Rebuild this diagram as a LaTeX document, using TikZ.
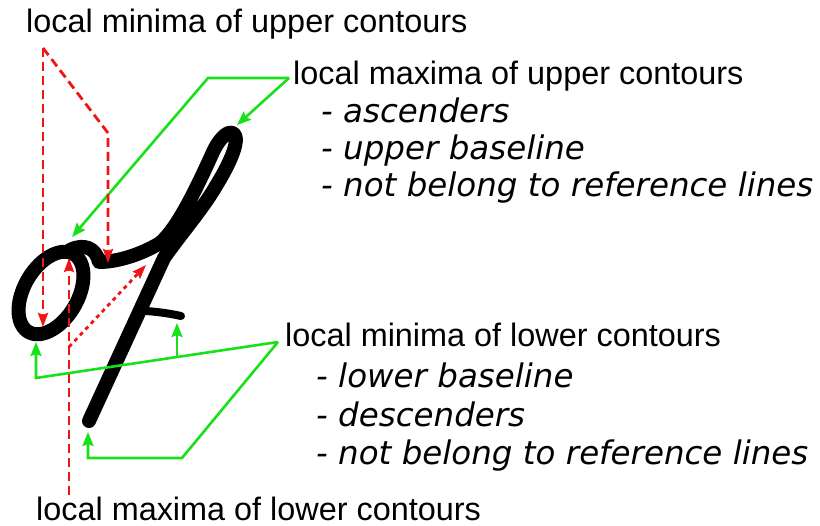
\documentclass[tikz,border=0pt]{standalone}
\usepackage{fontspec}
\setmainfont{Liberation Sans}
\newfontfamily\dejavu{DejaVu Sans}
\usetikzlibrary{arrows.meta,calc}
\definecolor{gr}{RGB}{25,225,25}
\definecolor{rd}{RGB}{240,20,20}
\begin{document}
\begin{tikzpicture}[x=1pt,y=-1pt,
  lbl/.style={inner sep=0pt, anchor=base west, font=\fontsize{32.4}{38}\selectfont},
  itm/.style={inner sep=0pt, anchor=base west, font=\dejavu\itshape\fontsize{32.5}{38}\selectfont},
  grn/.style={draw=gr, line width=2.6pt, line join=miter, -{Stealth[length=14pt,width=11pt,inset=2pt]}},
  redd/.style={draw=rd, line width=2.8pt, dash pattern=on 9pt off 5pt, -{Stealth[length=14pt,width=10pt,inset=2pt]}},
  redo/.style={draw=rd, line width=2.8pt, dash pattern=on 4pt off 4pt, -{Stealth[length=14pt,width=10pt,inset=2pt]}},
  ink/.style={draw=black, line width=14pt, line cap=round, line join=round}]
\useasboundingbox (0,0) rectangle (820,526);
% handwriting "of"
\draw[ink] plot[variable=\t, domain=0:360, samples=73, smooth]
  ({51 + 45*cos(\t)*0.5 + 27*sin(\t)*0.866}, {293 - 45*cos(\t)*0.866 + 27*sin(\t)*0.5});
\draw[ink] (70,250) .. controls (84,243) and (96,248) .. (99,262)
  .. controls (118,262) and (142,254) .. (160,243)
  .. controls (178,228) and (198,185) .. (213,152)
  .. controls (220,137) and (230,128) .. (235,135)
  .. controls (239,143) and (229,165) .. (216,186)
  .. controls (202,210) and (180,235) .. (164,258)
  -- (89,421);
\draw[ink, line width=8pt] (146,311) .. controls (160,312) and (172,314) .. (181,316);
% labels
\node[lbl] (tminU) at (26,33) {local minima of upper contours};
\node[lbl] (tmaxU) at (293,85) {local maxima of upper contours};
\node[itm] (u1) at (321,123) {- ascenders};
\node[itm] (u2) at (321,160) {- upper baseline};
\node[itm] (u3) at (321,197) {- not belong to reference lines};
\node[lbl] (tminL) at (285,347) {local minima of lower contours};
\node[itm] (l1) at (316,388) {- lower baseline};
\node[itm] (l2) at (316,427) {- descenders};
\node[itm] (l3) at (316,465) {- not belong to reference lines};
\node[lbl] (tmaxL) at (36,521) {local maxima of lower contours};
% coordinates
\coordinate (gs1) at ($(tmaxU.base west)+(-4,-7)$);
\coordinate (g1) at (208,78);
\coordinate (g1t) at (72,237);
\coordinate (g2t) at (237,125);
\coordinate (gs2) at ($(tminL.base west)+(-7,-5)$);
\coordinate (g3) at (36,378);
\coordinate (g3t) at (36,342);
\coordinate (g4) at (177,357);
\coordinate (g4t) at (177,323);
\coordinate (g5) at (182,458);
\coordinate (g6) at (88,458);
\coordinate (g6t) at (88,432);
\coordinate (rA) at ($(tminU.base west)+(17,15)$);
\coordinate (r1t) at (43,327);
\coordinate (r2) at (108,133);
\coordinate (r2t) at (108,263);
\coordinate (rB) at ($(tmaxL.base west)+(33,-26)$);
\coordinate (r3t) at (69,258);
\coordinate (r4) at (69,347);
\coordinate (r4t) at (146,265);
% green connectors
\draw[grn] (gs1) -- (g1) -- (g1t);
\draw[grn] (gs1) -- (g2t);
\draw[grn] (gs2) -- (g3) -- (g3t);
\draw[grn] (g4) -- (g4t);
\draw[grn] (gs2) -- (g5) -- (g6) -- (g6t);
% red connectors
\draw[redd] (rA) -- (r1t);
\draw[redd] (rA) -- (r2) -- (r2t);
\draw[redd] (rB) -- (r3t);
\draw[redo] (r4) -- (r4t);
\end{tikzpicture}
\end{document}
